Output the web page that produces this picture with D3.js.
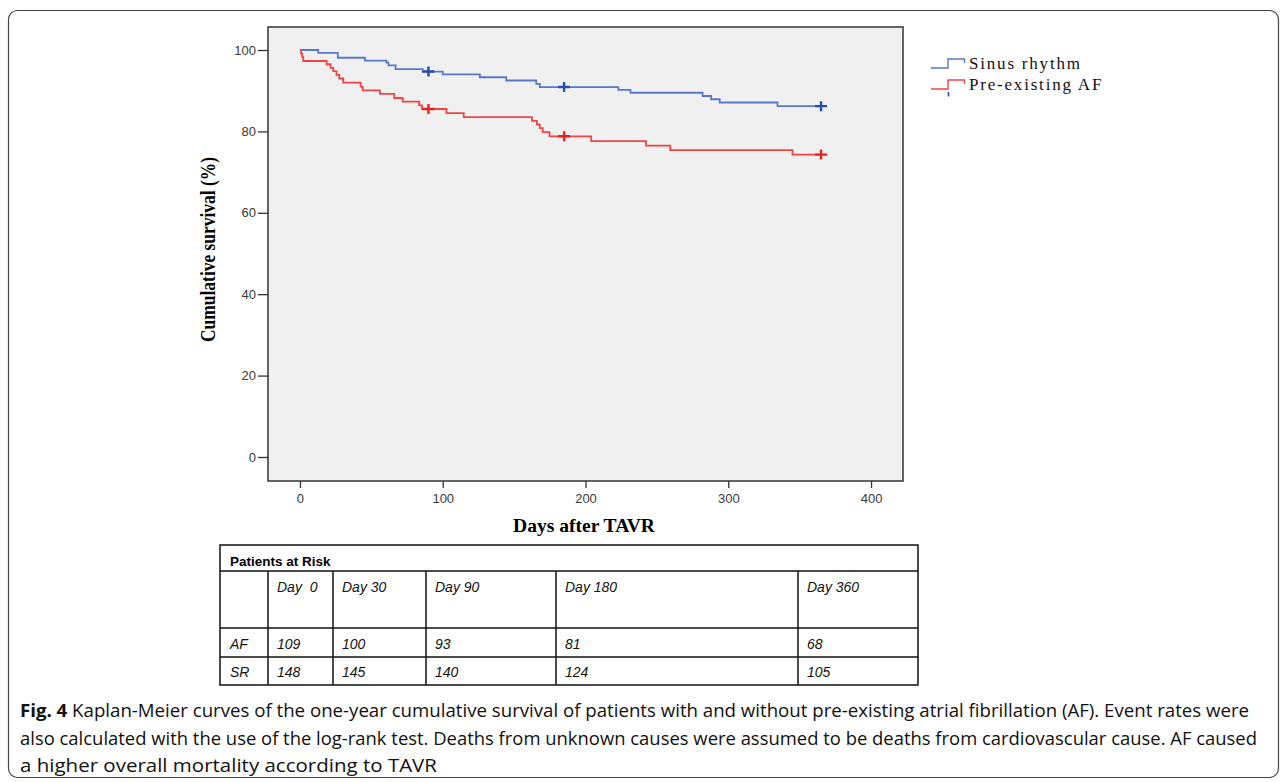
<!DOCTYPE html>
<html>
<head>
<meta charset="utf-8">
<script src="https://cdn.jsdelivr.net/npm/d3@7"></script>
<style>
    body { margin: 0; background: #fff; }
    #chart { width: 1287px; height: 782px; }
</style>
</head>
<body>
<div id="chart"></div>
<script>
// Kaplan-Meier steps: [day, survival %]
const srSteps = [[0, 100], [12.8, 99.3], [26.5, 98.1], [45.5, 97.4], [60.6, 96.9], [62, 96.2], [67, 95.3],
    [86, 94.7], [100, 94.0], [126, 93.3], [144.5, 92.5], [165.5, 91.7], [168, 90.9], [223, 90.2],
    [231.5, 89.5], [282, 88.7], [288, 87.9], [294, 87.1], [334.5, 86.2], [365, 86.2]];
const afSteps = [[0, 100], [0.8, 99.1], [1.6, 98.2], [2.3, 97.3], [18.6, 96.5], [21.4, 95.6], [23.3, 94.8],
    [25.6, 93.9], [27.5, 93.0], [30.3, 92.0], [42.5, 91.0], [44, 90.1], [56, 89.2], [66, 88.2], [72, 87.3],
    [83.5, 86.4], [85.5, 85.5], [102.6, 84.5], [114.7, 83.5], [162.5, 82.6], [166, 81.7], [168, 80.8],
    [170, 79.8], [174.8, 78.8], [204, 77.6], [242.4, 76.5], [259.4, 75.4], [345, 74.3], [365, 74.3]];
const censorDays = [90, 185, 365];

const seriesNames = ["Sinus rhythm", "Pre-existing AF"];
const xTicks = [0, 100, 200, 300, 400];
const yTicks = [0, 20, 40, 60, 80, 100];

// patients at risk table
const riskHeader = ["Day  0", "Day 30", "Day 90", "Day 180", "Day 360"];
const riskLabels = ["AF", "SR"];
const riskAF = [109, 100, 93, 81, 68];
const riskSR = [148, 145, 140, 124, 105];

const captionLines = [
    "Kaplan-Meier curves of the one-year cumulative survival of patients with and without pre-existing atrial fibrillation (AF). Event rates were",
    "also calculated with the use of the log-rank test. Deaths from unknown causes were assumed to be deaths from cardiovascular cause. AF caused",
    "a higher overall mortality according to TAVR"
];

class kmVis {
    constructor(parentElement) {
        this.parentElement = parentElement;
        this.initVis();
    }

    initVis() {
        let vis = this;
        vis.box = {left: 268, right: 903, top: 27, bottom: 481};

        vis.svg = d3.select("#" + vis.parentElement).append("svg")
            .attr("width", 1287)
            .attr("height", 782);

        // figure frame
        vis.svg.append("rect")
            .attr("x", 8.5).attr("y", 10.5)
            .attr("width", 1270).attr("height", 767)
            .attr("rx", 9)
            .attr("fill", "none")
            .attr("stroke", "#444")
            .attr("stroke-width", 1.2);

        // scales: 0 -> 300px, 400 -> 871px ; 0% -> 457px, 100% -> 50px
        vis.x = d3.scaleLinear().domain([-22.4, 422.4]).range([vis.box.left, vis.box.right]);
        vis.y = d3.scaleLinear().domain([-5.9, 105.65]).range([vis.box.bottom, vis.box.top]);

        vis.svg.append("rect")
            .attr("x", vis.box.left).attr("y", vis.box.top)
            .attr("width", vis.box.right - vis.box.left)
            .attr("height", vis.box.bottom - vis.box.top)
            .attr("fill", "#f0f0f0")
            .attr("stroke", "#333")
            .attr("stroke-width", 1.5);

        vis.colors = {line: ["#5a78cc", "#f04444"], mark: ["#2b4ca6", "#e62222"]};
        vis.updateVis();
    }

    updateVis() {
        let vis = this;

        // axes
        let yAxis = d3.axisLeft(vis.y).tickValues(yTicks).tickSize(10).tickPadding(2);
        let xAxis = d3.axisBottom(vis.x).tickValues(xTicks).tickSize(7).tickPadding(6);

        let yg = vis.svg.append("g")
            .attr("transform", `translate(${vis.box.left}, 0)`)
            .call(yAxis);
        let xg = vis.svg.append("g")
            .attr("transform", `translate(0, ${vis.box.bottom})`)
            .call(xAxis);
        [yg, xg].forEach(g => {
            g.select(".domain").remove();
            g.selectAll("line").attr("stroke", "#333").attr("stroke-width", 1.3);
            g.selectAll("text")
                .attr("fill", "#3a3a3a")
                .style("font-family", "'Liberation Sans', Arial, sans-serif")
                .style("font-size", "13px");
        });

        // axis titles
        vis.svg.append("text")
            .attr("transform", `translate(215, ${vis.y(50) - 4}) rotate(-90)`)
            .attr("text-anchor", "middle")
            .attr("textLength", 185)
            .attr("lengthAdjust", "spacingAndGlyphs")
            .style("font-family", "'Liberation Serif', 'Times New Roman', serif")
            .style("font-weight", "bold")
            .style("font-size", "20px")
            .text("Cumulative survival (%)");
        vis.svg.append("text")
            .attr("x", 584).attr("y", 532)
            .attr("text-anchor", "middle")
            .attr("textLength", 142)
            .attr("lengthAdjust", "spacingAndGlyphs")
            .style("font-family", "'Liberation Serif', 'Times New Roman', serif")
            .style("font-weight", "bold")
            .style("font-size", "19px")
            .text("Days after TAVR");

        // curves
        let line = d3.line()
            .x(d => vis.x(d[0]))
            .y(d => vis.y(d[1]))
            .curve(d3.curveStepAfter);

        [srSteps, afSteps].forEach((steps, i) => {
            vis.svg.append("path")
                .datum(steps)
                .attr("d", line)
                .attr("fill", "none")
                .attr("stroke", vis.colors.line[i])
                .attr("stroke-width", 1.8);

            // censor marks
            let survAt = day => {
                let v = steps[0][1];
                steps.forEach(s => { if (s[0] <= day) v = s[1]; });
                return v;
            };
            vis.svg.append("g").selectAll("path")
                .data(censorDays)
                .enter()
                .append("path")
                .attr("d", d => {
                    let cx = vis.x(d), cy = vis.y(survAt(d));
                    return `M${cx - 6},${cy}H${cx + 6}M${cx},${cy - 5}V${cy + 5}`;
                })
                .attr("stroke", vis.colors.mark[i])
                .attr("stroke-width", 2.4)
                .attr("fill", "none");
        });

        // legend
        let legend = vis.svg.append("g").attr("class", "legend");
        seriesNames.forEach((name, i) => {
            let ly = 59 + i * 21;
            legend.append("path")
                .attr("d", `M931,${ly + 9}H948V${ly}H964.5V${ly + 4}`)
                .attr("fill", "none")
                .attr("stroke", vis.colors.line[i])
                .attr("stroke-width", 1.4);
            legend.append("text")
                .attr("x", 969).attr("y", ly + 10)
                .style("font-family", "'Liberation Serif', 'Times New Roman', serif")
                .style("font-size", "17px")
                .style("letter-spacing", "1.8px")
                .attr("fill", "#111")
                .text(name);
        });
        legend.append("line")
            .attr("x1", 948.5).attr("x2", 948.5)
            .attr("y1", 92).attr("y2", 96.5)
            .attr("stroke", vis.colors.mark[0])
            .attr("stroke-width", 1.6);

        vis.drawTable();
        vis.drawCaption();
    }

    drawTable() {
        let vis = this;
        let t = {left: 220, right: 918, rows: [545, 571, 628, 657, 685]};
        let cols = [268, 333, 426, 556, 798];
        let g = vis.svg.append("g").attr("class", "risk-table");
        let font = "'Liberation Sans', Arial, sans-serif";

        g.append("rect")
            .attr("x", t.left).attr("y", t.rows[0])
            .attr("width", t.right - t.left)
            .attr("height", t.rows[4] - t.rows[0])
            .attr("fill", "none").attr("stroke", "#111").attr("stroke-width", 1.5);
        t.rows.slice(1, 4).forEach(r => {
            g.append("line")
                .attr("x1", t.left).attr("x2", t.right)
                .attr("y1", r).attr("y2", r)
                .attr("stroke", "#111").attr("stroke-width", 1.5);
        });
        cols.forEach(c => {
            g.append("line")
                .attr("x1", c).attr("x2", c)
                .attr("y1", t.rows[1]).attr("y2", t.rows[4])
                .attr("stroke", "#111").attr("stroke-width", 1.5);
        });

        g.append("text")
            .attr("x", 230).attr("y", 566)
            .style("font-family", font).style("font-weight", "bold").style("font-size", "13.5px")
            .text("Patients at Risk");

        let cell = (x, y, txt) => g.append("text")
            .attr("x", x).attr("y", y)
            .style("font-family", font).style("font-style", "italic").style("font-size", "14px")
            .style("white-space", "pre")
            .attr("fill", "#111")
            .text(txt);

        riskHeader.forEach((h, i) => cell(cols[i] + 9, 592, h));
        riskLabels.forEach((lab, j) => cell(230, j === 0 ? 649 : 677, lab));
        riskAF.forEach((v, i) => cell(cols[i] + 9, 649, v));
        riskSR.forEach((v, i) => cell(cols[i] + 9, 677, v));
    }

    drawCaption() {
        let vis = this;
        let widths = [1229, 1237, 417];
        captionLines.forEach((txt, i) => {
            let tx = vis.svg.append("text")
                .attr("x", 20).attr("y", 717 + i * 27.5)
                .style("font-family", "'Open Sans', 'Noto Sans', sans-serif")
                .style("font-size", "18px")
                .attr("fill", "#111");
            if (i === 0) {
                tx.append("tspan").style("font-weight", "bold").text("Fig. 4 ");
            }
            tx.append("tspan").text(txt);
            tx.attr("textLength", widths[i]).attr("lengthAdjust", "spacingAndGlyphs");
        });
    }
}

new kmVis("chart");
</script>
</body>
</html>
